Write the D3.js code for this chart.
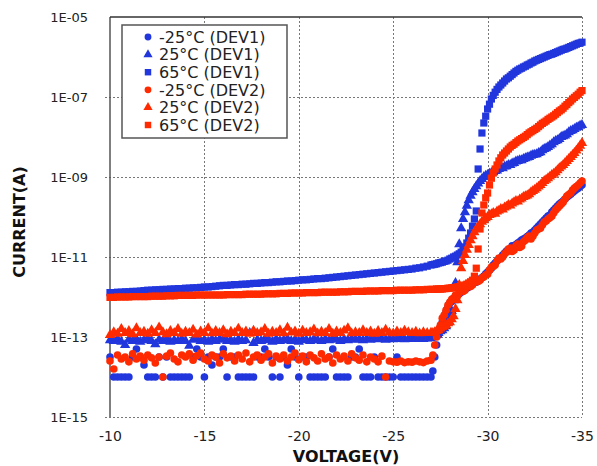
<!DOCTYPE html>
<html><head><meta charset="utf-8">
<script src="https://cdn.jsdelivr.net/npm/d3@7"></script>
<style>body{margin:0;background:#fff}svg{display:block}</style>
</head><body>
<svg id="chart" width="597" height="466"></svg>
<script>
// Gate-voltage sweep (V): 0.2 V steps up to -27 V, 0.1 V steps beyond
const voltage = [
  -10,-10.2,-10.4,-10.6,-10.8, -11,-11.2,-11.4,-11.6,-11.8,
  -12,-12.2,-12.4,-12.6,-12.8, -13,-13.2,-13.4,-13.6,-13.8,
  -14,-14.2,-14.4,-14.6,-14.8, -15,-15.2,-15.4,-15.6,-15.8,
  -16,-16.2,-16.4,-16.6,-16.8, -17,-17.2,-17.4,-17.6,-17.8,
  -18,-18.2,-18.4,-18.6,-18.8, -19,-19.2,-19.4,-19.6,-19.8,
  -20,-20.2,-20.4,-20.6,-20.8, -21,-21.2,-21.4,-21.6,-21.8,
  -22,-22.2,-22.4,-22.6,-22.8, -23,-23.2,-23.4,-23.6,-23.8,
  -24,-24.2,-24.4,-24.6,-24.8, -25,-25.2,-25.4,-25.6,-25.8,
  -26,-26.2,-26.4,-26.6,-26.8, -27,
  -27.1,-27.2,-27.3,-27.4,-27.5,-27.6,-27.7,-27.8,-27.9,
  -28,-28.1,-28.2,-28.3,-28.4,-28.5,-28.6,-28.7,-28.8,-28.9,
  -29,-29.1,-29.2,-29.3,-29.4,-29.5,-29.6,-29.7,-29.8,-29.9,
  -30,-30.1,-30.2,-30.3,-30.4,-30.5,-30.6,-30.7,-30.8,-30.9,
  -31,-31.1,-31.2,-31.3,-31.4,-31.5,-31.6,-31.7,-31.8,-31.9,
  -32,-32.1,-32.2,-32.3,-32.4,-32.5,-32.6,-32.7,-32.8,-32.9,
  -33,-33.1,-33.2,-33.3,-33.4,-33.5,-33.6,-33.7,-33.8,-33.9,
  -34,-34.1,-34.2,-34.3,-34.4,-34.5,-34.6,-34.7,-34.8,-34.9,
  -35
];

// Measured current, stored as log10(I / A), one value per voltage step
const dev1M25 = [
  -13.5,-14,-14,-14,-14,-14,-13.5,-13.3,-13.5,-13.7,
  -14,-14,-14,-13.5,-14,-13.5,-14,-14,-14,-14,
  -14,-14,-13.5,-13.3,-13.5,-14,-13.5,-13.7,-13.5,-13.5,
  -13.3,-14,-13.5,-13.5,-14,-14,-14,-14,-14,-13.5,
  -13.5,-13.3,-13.5,-14,-13.5,-14,-13.5,-13.7,-13.3,-13.5,
  -14,-13.5,-13.5,-14,-14,-14,-14,-14,-13.5,-13.3,
  -14,-14,-14,-14,-13.5,-13.5,-13.3,-14,-14,-14,
  -13.5,-14,-14,-14,-14,-14,-13.5,-14,-14,-14,
  -14,-14,-14,-14,-14,-14,
  -13.85,-13.5,-13.2,-12.95,-12.78,-12.63,-12.5,-12.38,-12.25,
  -12.15,-12.11,-12.05,-11.99,-11.95,-11.92,-11.88,-11.83,-11.8,-11.78,
  -11.75,-11.71,-11.68,-11.62,-11.63,-11.58,-11.55,-11.52,-11.48,-11.42,
  -11.38,-11.33,-11.28,-11.2,-11.15,-11.1,-11.05,-11.02,-10.95,-10.9,
  -10.85,-10.83,-10.8,-10.72,-10.73,-10.69,-10.65,-10.62,-10.58,-10.55,
  -10.53,-10.49,-10.45,-10.4,-10.38,-10.33,-10.28,-10.23,-10.18,-10.13,
  -10.08,-10.03,-9.98,-9.95,-9.88,-9.83,-9.78,-9.73,-9.68,-9.64,
  -9.6,-9.55,-9.5,-9.47,-9.43,-9.39,-9.35,-9.31,-9.28,-9.24,
  -9.2
];
const dev1P25 = [
  -13.08,-13.1,-13.05,-13.12,-13.2,-13.07,-13.1,-13.06,-13.12,-13.08,
  -13.05,-13.1,-13.18,-13.07,-13.1,-13.05,-13.12,-13.08,-13.1,-13.06,
  -13.1,-13.22,-13.07,-13.05,-13.1,-13.08,-13.12,-13.06,-13.1,-13.07,
  -13.05,-13.1,-13.08,-13.12,-13.06,-13.1,-13.08,-12.9,-13.15,-13.07,
  -13.1,-13.05,-13.08,-13.12,-13.06,-13.1,-13.08,-13.05,-13.1,-13.07,
  -13.12,-13.06,-13.08,-13.1,-13.05,-13.08,-13.1,-13.06,-13.08,-13.05,
  -13.07,-13.1,-13.06,-13.08,-13.05,-13.07,-13.06,-13.08,-13.05,-13.07,
  -13.04,-13.06,-13.05,-13.07,-13.04,-13.06,-13.05,-13.04,-13.06,-13.05,
  -13.04,-13.05,-13.03,-13.05,-13.04,-13.03,
  -13.0,-12.98,-12.93,-12.9,-12.86,-12.83,-12.78,-12.73,-12.64,
  -12.53,-12.35,-12.08,-11.65,-11.13,-10.68,-10.28,-10.05,-9.88,-9.72,
  -9.58,-9.47,-9.38,-9.3,-9.23,-9.16,-9.1,-9.05,-9.0,-8.97,
  -8.95,-8.92,-8.9,-8.88,-8.85,-8.84,-8.8,-8.76,-8.78,-8.74,
  -8.73,-8.7,-8.7,-8.66,-8.65,-8.61,-8.6,-8.58,-8.58,-8.55,
  -8.53,-8.51,-8.5,-8.47,-8.45,-8.44,-8.43,-8.4,-8.38,-8.33,
  -8.3,-8.28,-8.25,-8.21,-8.18,-8.13,-8.1,-8.08,-8.05,-8.0,
  -7.98,-7.96,-7.93,-7.88,-7.85,-7.83,-7.8,-7.77,-7.75,-7.72,
  -7.7
];
const dev1P65 = [
  -11.89,-11.89,-11.88,-11.88,-11.87,-11.87,-11.86,-11.86,-11.85,-11.84,
  -11.83,-11.83,-11.82,-11.82,-11.81,-11.81,-11.8,-11.8,-11.79,-11.79,
  -11.78,-11.78,-11.77,-11.77,-11.76,-11.75,-11.75,-11.74,-11.73,-11.72,
  -11.71,-11.71,-11.7,-11.69,-11.69,-11.68,-11.68,-11.67,-11.66,-11.66,
  -11.65,-11.64,-11.64,-11.63,-11.62,-11.62,-11.61,-11.6,-11.6,-11.59,
  -11.58,-11.57,-11.57,-11.56,-11.55,-11.54,-11.54,-11.53,-11.52,-11.51,
  -11.5,-11.49,-11.48,-11.47,-11.46,-11.45,-11.44,-11.43,-11.42,-11.41,
  -11.4,-11.39,-11.38,-11.37,-11.36,-11.35,-11.34,-11.33,-11.32,-11.31,
  -11.3,-11.28,-11.27,-11.25,-11.23,-11.2,
  -11.19,-11.18,-11.17,-11.15,-11.14,-11.13,-11.11,-11.1,-11.08,
  -11.05,-11.03,-11.0,-10.98,-10.95,-10.92,-10.88,-10.82,-10.75,-10.65,
  -10.53,-10.4,-10.23,-10.05,-9.85,-8.8,-8.3,-7.9,-7.65,-7.48,
  -7.3,-7.18,-7.05,-6.96,-6.88,-6.81,-6.75,-6.7,-6.65,-6.6,
  -6.55,-6.52,-6.48,-6.44,-6.4,-6.36,-6.33,-6.3,-6.28,-6.25,
  -6.23,-6.2,-6.18,-6.15,-6.13,-6.1,-6.08,-6.06,-6.04,-6.02,
  -6.0,-5.98,-5.96,-5.94,-5.93,-5.91,-5.89,-5.87,-5.85,-5.83,
  -5.81,-5.8,-5.78,-5.76,-5.74,-5.72,-5.7,-5.68,-5.66,-5.65,
  -5.63
];
const dev2M25 = [
  -13.6,-13.8,-13.45,-13.55,-13.5,-13.62,-13.42,-13.55,-13.48,-13.58,
  -13.45,-13.52,-13.65,-13.5,-14,-13.48,-13.4,-13.55,-13.62,-13.45,
  -13.5,-13.42,-13.58,-13.47,-13.4,-13.55,-13.6,-13.45,-13.5,-13.65,
  -13.42,-13.52,-13.48,-13.6,-13.45,-13.55,-13.4,-13.62,-13.5,-13.45,
  -13.58,-13.5,-13.42,-13.65,-13.48,-13.55,-13.45,-13.6,-13.5,-13.4,
  -13.57,-13.48,-13.62,-13.45,-13.52,-13.6,-13.42,-13.55,-13.5,-13.65,
  -13.45,-13.55,-13.48,-13.6,-13.42,-13.52,-13.58,-13.45,-13.62,-13.5,
  -13.55,-13.62,-13.48,-14,-13.6,-13.62,-13.63,-13.6,-13.64,-13.62,
  -13.63,-13.6,-13.62,-13.64,-13.6,-13.58,
  -13.45,-13.2,-13.0,-12.83,-12.7,-12.53,-12.45,-12.33,-12.2,
  -12.13,-12.06,-12.03,-11.95,-11.98,-11.9,-11.85,-11.86,-11.83,-11.75,
  -11.72,-11.74,-11.7,-11.64,-11.6,-11.61,-11.58,-11.52,-11.5,-11.45,
  -11.43,-11.33,-11.25,-11.24,-11.2,-11.1,-11.03,-11.05,-11.0,-10.92,
  -10.88,-10.8,-10.78,-10.86,-10.83,-10.72,-10.68,-10.76,-10.73,-10.62,
  -10.58,-10.52,-10.48,-10.55,-10.48,-10.4,-10.33,-10.3,-10.28,-10.2,
  -10.13,-10.1,-10.05,-10.02,-9.98,-9.9,-9.83,-9.78,-9.73,-9.68,
  -9.63,-9.55,-9.48,-9.44,-9.4,-9.33,-9.28,-9.24,-9.2,-9.15,
  -9.1
];
const dev2P25 = [
  -12.95,-12.88,-12.92,-12.8,-12.9,-12.85,-12.93,-12.78,-12.9,-12.87,
  -12.92,-12.83,-12.9,-12.76,-12.88,-12.93,-12.85,-12.9,-12.8,-12.92,
  -12.87,-12.9,-12.82,-12.94,-12.86,-12.9,-12.78,-12.91,-12.85,-12.9,
  -12.83,-12.93,-12.87,-12.9,-12.79,-12.9,-12.86,-12.92,-12.84,-12.9,
  -12.88,-12.8,-12.92,-12.87,-12.9,-12.83,-12.91,-12.77,-12.89,-12.86,
  -12.92,-12.84,-12.9,-12.88,-12.81,-12.91,-12.87,-12.9,-12.8,-12.92,
  -12.86,-12.9,-12.84,-12.78,-12.91,-12.88,-12.9,-12.83,-12.9,-12.86,
  -12.92,-12.85,-12.9,-12.82,-12.89,-12.91,-12.86,-12.9,-12.84,-12.88,
  -12.9,-12.87,-12.91,-12.88,-12.9,-12.89,
  -12.9,-12.88,-12.85,-12.83,-12.79,-12.75,-12.73,-12.7,-12.66,
  -12.63,-12.56,-12.48,-12.3,-12.08,-11.7,-11.28,-11.1,-10.95,-10.82,
  -10.7,-10.58,-10.48,-10.38,-10.3,-10.23,-10.18,-10.12,-10.08,-10.03,
  -10.0,-9.95,-9.93,-9.9,-9.92,-9.86,-9.84,-9.8,-9.81,-9.76,
  -9.74,-9.7,-9.71,-9.66,-9.63,-9.6,-9.61,-9.56,-9.54,-9.5,
  -9.48,-9.46,-9.43,-9.38,-9.35,-9.32,-9.28,-9.24,-9.2,-9.15,
  -9.1,-9.07,-9.03,-8.99,-8.95,-8.92,-8.88,-8.83,-8.78,-8.74,
  -8.7,-8.65,-8.6,-8.55,-8.5,-8.45,-8.4,-8.34,-8.28,-8.22,
  -8.15
];
const dev2P65 = [
  -12.01,-12.01,-12.0,-12.0,-12.0,-12.0,-11.99,-11.99,-11.99,-11.99,
  -11.99,-11.98,-11.98,-11.98,-11.98,-11.97,-11.97,-11.97,-11.96,-11.96,
  -11.96,-11.96,-11.96,-11.95,-11.95,-11.95,-11.95,-11.95,-11.95,-11.95,
  -11.95,-11.94,-11.94,-11.94,-11.94,-11.94,-11.93,-11.93,-11.93,-11.93,
  -11.93,-11.92,-11.92,-11.92,-11.92,-11.91,-11.91,-11.91,-11.9,-11.9,
  -11.9,-11.9,-11.89,-11.89,-11.89,-11.89,-11.88,-11.88,-11.88,-11.88,
  -11.88,-11.87,-11.87,-11.87,-11.86,-11.86,-11.86,-11.86,-11.85,-11.85,
  -11.85,-11.85,-11.84,-11.84,-11.84,-11.84,-11.83,-11.83,-11.83,-11.83,
  -11.83,-11.82,-11.82,-11.82,-11.81,-11.81,
  -11.81,-11.81,-11.8,-11.8,-11.8,-11.8,-11.79,-11.79,-11.78,
  -11.78,-11.77,-11.77,-11.76,-11.75,-11.74,-11.73,-11.72,-11.7,-11.68,
  -11.65,-11.62,-11.58,-11.48,-11.28,-10.8,-10.3,-9.9,-9.7,-9.52,
  -9.4,-9.2,-9.03,-8.9,-8.8,-8.7,-8.6,-8.52,-8.45,-8.4,
  -8.35,-8.3,-8.25,-8.21,-8.18,-8.14,-8.1,-8.07,-8.04,-8.01,
  -7.98,-7.94,-7.9,-7.87,-7.84,-7.81,-7.78,-7.74,-7.7,-7.66,
  -7.63,-7.6,-7.56,-7.53,-7.5,-7.47,-7.43,-7.39,-7.35,-7.32,
  -7.28,-7.23,-7.19,-7.14,-7.1,-7.05,-7.01,-6.97,-6.93,-6.88,
  -6.84
];

const seriesLabels = ["-25°C (DEV1)", "25°C (DEV1)", "65°C (DEV1)",
                      "-25°C (DEV2)", "25°C (DEV2)", "65°C (DEV2)"];
const xTickValues = [-10, -15, -20, -25, -30, -35];
const yTickValues = [1e-15, 1e-13, 1e-11, 1e-9, 1e-7, 1e-5];
const yTickLabels = ["1E-15", "1E-13", "1E-11", "1E-09", "1E-07", "1E-05"];

const BLUE = "#2136dc", RED = "#ff2a00";
const series = [
  {name: seriesLabels[0], values: dev1M25, color: BLUE, shape: d3.symbolCircle, size: 46},
  {name: seriesLabels[1], values: dev1P25, color: BLUE, shape: d3.symbolTriangle, size: 46},
  {name: seriesLabels[2], values: dev1P65, color: BLUE, shape: d3.symbolSquare, size: 52},
  {name: seriesLabels[3], values: dev2M25, color: RED, shape: d3.symbolCircle, size: 46},
  {name: seriesLabels[4], values: dev2P25, color: RED, shape: d3.symbolTriangle, size: 46},
  {name: seriesLabels[5], values: dev2P65, color: RED, shape: d3.symbolSquare, size: 52}
];

const W = 597, H = 466;
const m = {left: 110, top: 17, right: 15, bottom: 49};
const svg = d3.select("#chart");
const FONT = "Verdana, 'DejaVu Sans', sans-serif";

const x = d3.scaleLinear().domain([-10, -35]).range([m.left, W - m.right]);
const y = d3.scaleLog().domain([1e-15, 1e-5]).range([H - m.bottom, m.top]);

// dotted grid
const grid = svg.append("g").attr("stroke", "#777").attr("stroke-width", 1)
  .attr("stroke-dasharray", "2,2").attr("shape-rendering", "crispEdges");
grid.selectAll("line.v").data(xTickValues.slice(1)).join("line")
  .attr("x1", d => Math.round(x(d)) + 0.5).attr("x2", d => Math.round(x(d)) + 0.5)
  .attr("y1", y(1e-5)).attr("y2", y(1e-15));
grid.selectAll("line.h").data(yTickValues.slice(0, -1)).join("line")
  .attr("x1", x(-10) - 5).attr("x2", x(-35))
  .attr("y1", d => Math.round(y(d)) + 0.5).attr("y2", d => Math.round(y(d)) + 0.5);

// solid frame on the left and top
svg.append("line").attr("x1", x(-10)).attr("x2", x(-10)).attr("y1", y(1e-5)).attr("y2", y(1e-15))
  .attr("stroke", "#555").attr("stroke-width", 1.5);
svg.append("line").attr("x1", x(-10)).attr("x2", x(-35)).attr("y1", y(1e-5)).attr("y2", y(1e-5))
  .attr("stroke", "#333").attr("stroke-width", 1.5);

// tick labels
const xAxis = d3.axisBottom(x).tickValues(xTickValues).tickSize(0).tickPadding(0)
  .tickFormat(d => String(d));
const gx = svg.append("g").attr("transform", `translate(0,${y(1e-15) + 14})`).call(xAxis);
gx.select(".domain").remove();
gx.selectAll("text").attr("font-family", FONT).attr("font-size", 14).attr("fill", "#222");

const yAxis = d3.axisLeft(y).tickValues(yTickValues).tickSize(0).tickPadding(22)
  .tickFormat((d, i) => yTickLabels[i]);
const gy = svg.append("g").attr("transform", `translate(${x(-10)},0)`).call(yAxis);
gy.select(".domain").remove();
gy.selectAll("text").attr("font-family", FONT).attr("font-size", 13).attr("fill", "#222");

svg.append("text").attr("x", (x(-10) + x(-35)) / 2).attr("y", 462)
  .attr("text-anchor", "middle").attr("font-family", FONT).attr("font-weight", "bold")
  .attr("font-size", 16).attr("fill", "#111").text("VOLTAGE(V)");
svg.append("text").attr("transform", "translate(25,222) rotate(-90)")
  .attr("text-anchor", "middle").attr("font-family", FONT).attr("font-weight", "bold")
  .attr("font-size", 16).attr("fill", "#111").text("CURRENT(A)");

// data markers
const plot = svg.append("g");
series.forEach(s => {
  const sym = d3.symbol().type(s.shape).size(s.size);
  plot.append("g").attr("fill", s.color).selectAll("path")
    .data(voltage.map((v, i) => [v, Math.pow(10, s.values[i])]))
    .join("path")
    .attr("d", sym)
    .attr("transform", d => `translate(${x(d[0])},${y(d[1])})`);
});

// legend
const lg = svg.append("g").attr("transform", "translate(122,25)");
lg.append("rect").attr("width", 165).attr("height", 113)
  .attr("fill", "#fff").attr("stroke", "#555").attr("stroke-width", 1.5);
series.forEach((s, i) => {
  const row = lg.append("g").attr("transform", `translate(0,${12 + i * 17.6})`);
  row.append("path").attr("d", d3.symbol().type(s.shape).size(s.size * 0.8)())
    .attr("transform", "translate(26,0)").attr("fill", s.color);
  row.append("text").attr("x", 37).attr("dy", "0.36em")
    .attr("font-family", FONT).attr("font-size", 16).attr("fill", "#222").text(s.name);
});
</script>
</body></html>
